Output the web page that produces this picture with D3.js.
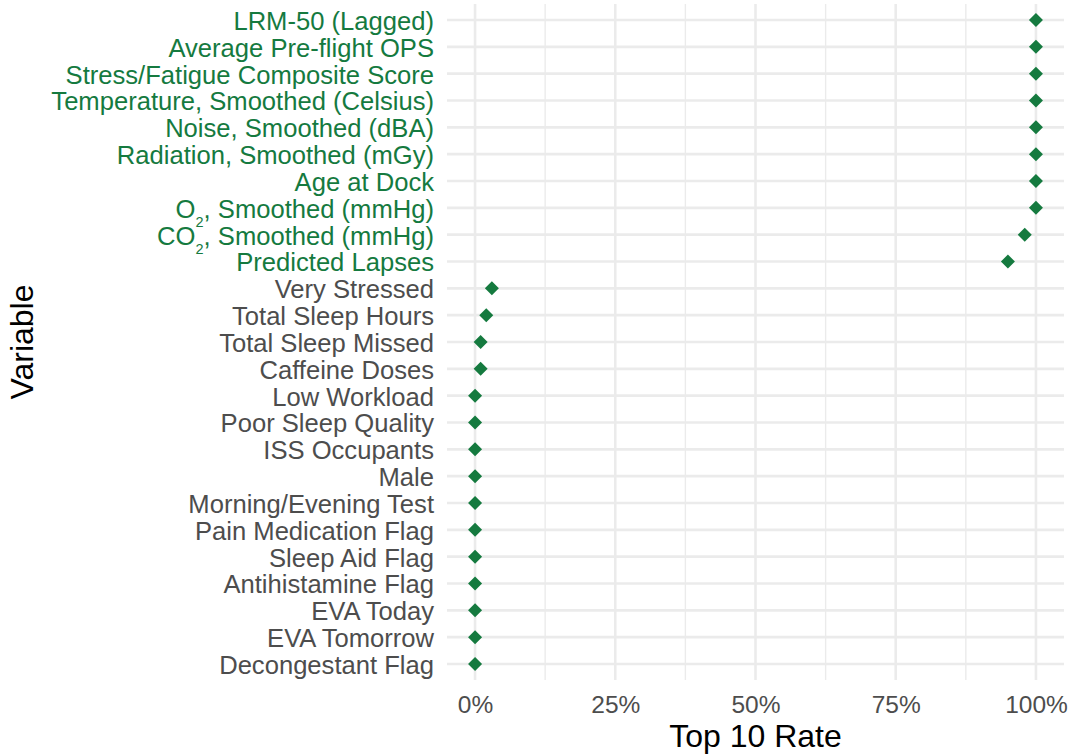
<!DOCTYPE html>
<html>
<head>
<meta charset="utf-8">
<script src="https://cdn.jsdelivr.net/npm/d3@7"></script>
<style>
  html, body { margin: 0; padding: 0; background: #ffffff; }
  svg { display: block; }
  text { font-family: "Liberation Sans", Arial, Helvetica, sans-serif; }
</style>
</head>
<body>
<svg id="chart" width="1072" height="755"></svg>
<script>
// Variables, listed top to bottom
const variables = [
  "LRM-50 (Lagged)",
  "Average Pre-flight OPS",
  "Stress/Fatigue Composite Score",
  "Temperature, Smoothed (Celsius)",
  "Noise, Smoothed (dBA)",
  "Radiation, Smoothed (mGy)",
  "Age at Dock",
  "O_2, Smoothed (mmHg)",
  "CO_2, Smoothed (mmHg)",
  "Predicted Lapses",
  "Very Stressed",
  "Total Sleep Hours",
  "Total Sleep Missed",
  "Caffeine Doses",
  "Low Workload",
  "Poor Sleep Quality",
  "ISS Occupants",
  "Male",
  "Morning/Evening Test",
  "Pain Medication Flag",
  "Sleep Aid Flag",
  "Antihistamine Flag",
  "EVA Today",
  "EVA Tomorrow",
  "Decongestant Flag"
];

// Share of runs in which each variable ranked in the top 10
const top10Rate = [
  1.00, 1.00, 1.00, 1.00, 1.00, 1.00, 1.00, 1.00, 0.98, 0.95,
  0.03, 0.02, 0.01, 0.01, 0.00, 0.00, 0.00, 0.00, 0.00, 0.00,
  0.00, 0.00, 0.00, 0.00, 0.00
];

const xTicks = [0, 0.25, 0.5, 0.75, 1];
const xMinorTicks = [0.125, 0.375, 0.625, 0.875];
const xTitle = "Top 10 Rate";
const yTitle = "Variable";
const topN = 10;

const data = variables.map((v, i) => ({ variable: v, rate: top10Rate[i] }));
const ranked = data.slice().sort((a, b) => b.rate - a.rate);
const topSet = new Set(ranked.slice(0, topN).map(d => d.variable));

const GREEN = "#157a3f";
const GREY_TEXT = "#4d4d4d";
const GRID = "#ebebeb";

const svg = d3.select("#chart");
const panel = { left: 447, right: 1064, top: 3.9, bottom: 680.1 };

const x = d3.scaleLinear()
  .domain([-0.05, 1.05])
  .range([panel.left, panel.right]);

const y = d3.scalePoint()
  .domain(variables)
  .range([panel.top, panel.bottom])
  .padding(0.6);

// grid
const grid = svg.append("g");
grid.selectAll("line.minor")
  .data(xMinorTicks)
  .join("line")
  .attr("x1", d => x(d)).attr("x2", d => x(d))
  .attr("y1", panel.top).attr("y2", panel.bottom)
  .attr("stroke", GRID).attr("stroke-width", 1.4);
grid.selectAll("line.majorx")
  .data(xTicks)
  .join("line")
  .attr("x1", d => x(d)).attr("x2", d => x(d))
  .attr("y1", panel.top).attr("y2", panel.bottom)
  .attr("stroke", GRID).attr("stroke-width", 2.6);
grid.selectAll("line.majory")
  .data(variables)
  .join("line")
  .attr("x1", panel.left).attr("x2", panel.right)
  .attr("y1", d => y(d)).attr("y2", d => y(d))
  .attr("stroke", GRID).attr("stroke-width", 2.6);

// x axis labels
const xAxis = d3.axisBottom(x)
  .tickValues(xTicks)
  .tickFormat(d3.format(".0%"))
  .tickSize(0)
  .tickPadding(0);
const xg = svg.append("g")
  .attr("transform", `translate(0,${panel.bottom})`)
  .call(xAxis);
xg.select(".domain").remove();
xg.selectAll("text")
  .attr("dy", null)
  .attr("y", 32.6)
  .attr("font-size", "24.5px")
  .attr("font-family", '"Liberation Sans", Arial, sans-serif')
  .attr("fill", GREY_TEXT);

// y axis labels
const yAxis = d3.axisLeft(y).tickSize(0).tickPadding(13);
const yg = svg.append("g")
  .attr("transform", `translate(${panel.left},0)`)
  .call(yAxis);
yg.select(".domain").remove();
yg.selectAll(".tick text").each(function (d) {
  const t = d3.select(this);
  t.text(null)
    .attr("dy", null)
    .attr("y", 9.4)
    .attr("font-size", "25.6px")
    .attr("font-family", '"Liberation Sans", Arial, sans-serif')
    .attr("fill", topSet.has(d) ? GREEN : GREY_TEXT);
  const m = d.match(/^([A-Za-z]+)_(\d)(,)(.*)$/);
  if (m) {
    t.append("tspan").text(m[1]);
    t.append("tspan").attr("font-size", "14.5px").attr("dy", 9.5).text(m[2]);
    t.append("tspan").attr("dy", -9.5).text(m[3]);
    t.append("tspan").text(m[4]);
  } else {
    t.text(d);
  }
});

// points (filled diamonds)
const r = 7;
svg.append("g")
  .selectAll("path")
  .data(data)
  .join("path")
  .attr("transform", d => `translate(${x(d.rate)},${y(d.variable)})`)
  .attr("d", `M0,${-r}L${r},0L0,${r}L${-r},0Z`)
  .attr("fill", GREEN);

// axis titles
svg.append("text")
  .attr("x", (panel.left + panel.right) / 2)
  .attr("y", 747)
  .attr("text-anchor", "middle")
  .attr("font-size", "32px")
  .attr("fill", "#000")
  .text(xTitle);

svg.append("text")
  .attr("transform", `translate(33,${(panel.top + panel.bottom) / 2}) rotate(-90)`)
  .attr("text-anchor", "middle")
  .attr("font-size", "32px")
  .attr("fill", "#000")
  .text(yTitle);
</script>
</body>
</html>
